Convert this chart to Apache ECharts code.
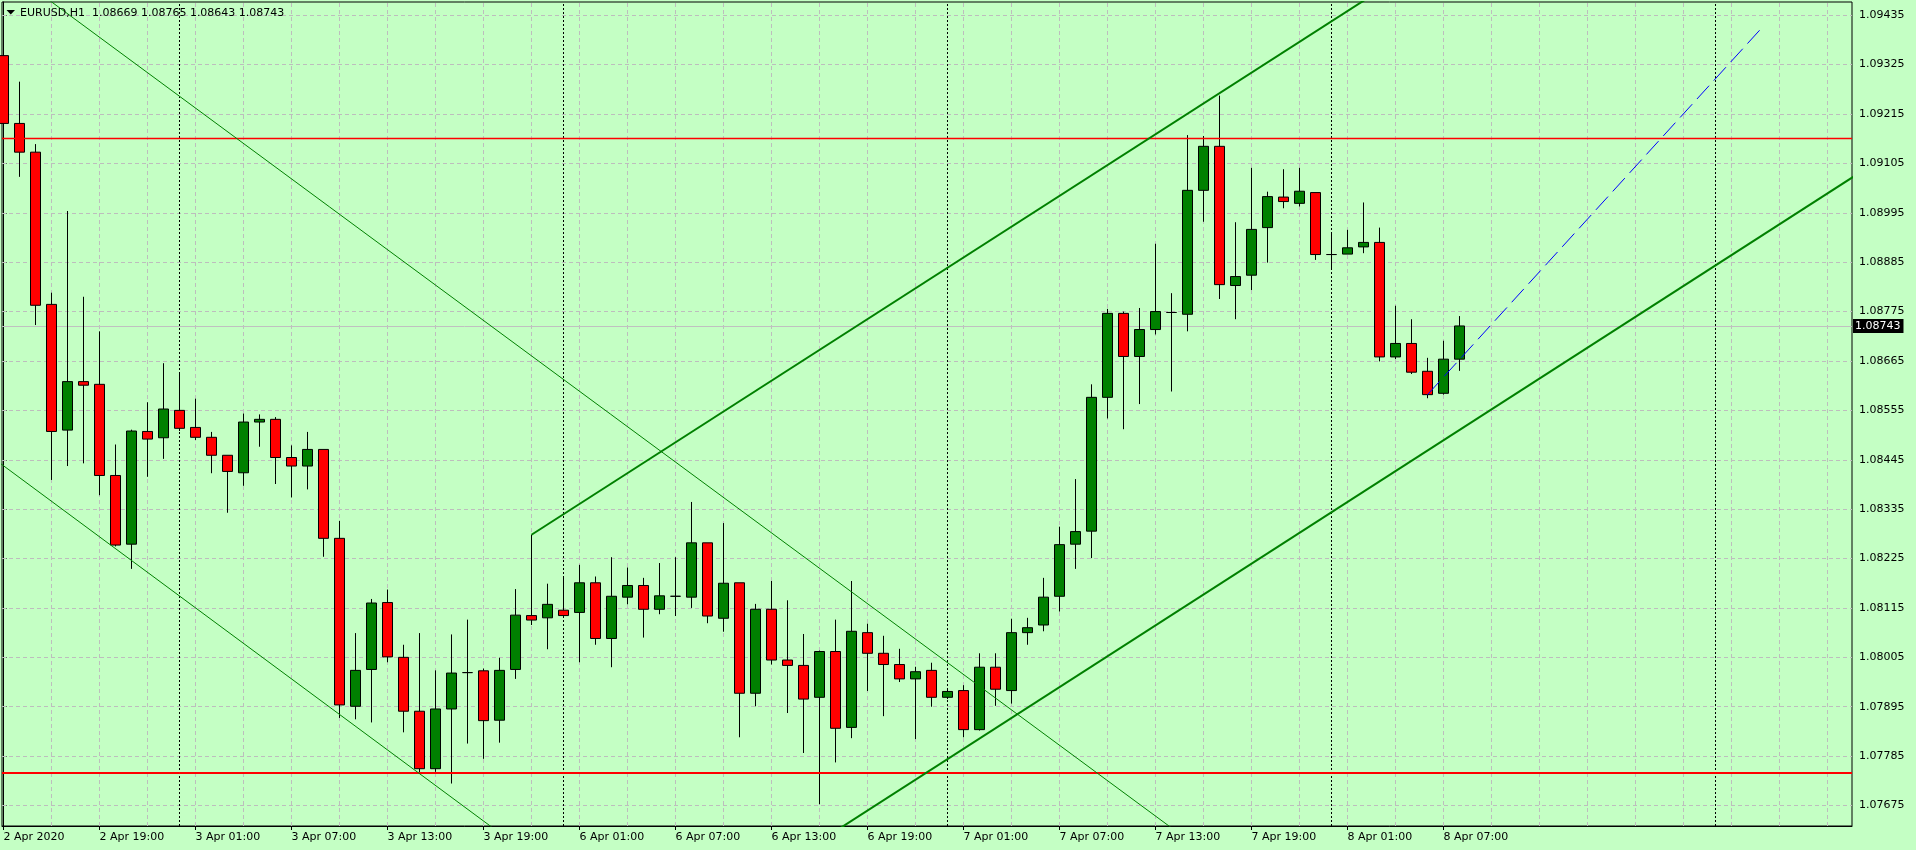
<!DOCTYPE html>
<html><head><meta charset="utf-8">
<script src="https://cdn.jsdelivr.net/npm/echarts@6/dist/echarts.min.js"></script>
<style>html,body{margin:0;padding:0;background:#C4FFC4;overflow:hidden;} #c{width:1916px;height:850px;}</style>
</head><body><div id="c"></div>
<script>
const symbolName = 'EURUSD,H1';
const xLabelIdx = [0,6,12,18,24,30,36,42,48,54,60,66,72,78,84,90];
const xLabels = ['2 Apr 2020','2 Apr 19:00','3 Apr 01:00','3 Apr 07:00','3 Apr 13:00','3 Apr 19:00','6 Apr 01:00','6 Apr 07:00','6 Apr 13:00','6 Apr 19:00','7 Apr 01:00','7 Apr 07:00','7 Apr 13:00','7 Apr 19:00','8 Apr 01:00','8 Apr 07:00'];
const yTicks = [1.07675,1.07785,1.07895,1.08005,1.08115,1.08225,1.08335,1.08445,1.08555,1.08665,1.08775,1.08885,1.08995,1.09105,1.09215,1.09325,1.09435];

const opens  = [1.09345,1.09194,1.09130,1.08791,1.08511,1.08619,1.08613,1.08410,1.08257,1.08508,1.08494,1.08555,1.08517,1.08495,1.08455,1.08416,1.08529,1.08535,1.08450,1.08431,1.08468,1.08270,1.07896,1.07978,1.08127,1.08005,1.07885,1.07757,1.07890,1.07971,1.07975,1.07865,1.07978,1.08098,1.08093,1.08110,1.08105,1.08171,1.08047,1.08139,1.08165,1.08112,1.08141,1.08139,1.08260,1.08092,1.08171,1.07925,1.08112,1.07999,1.07987,1.07916,1.08018,1.07849,1.08060,1.08014,1.07989,1.07957,1.07976,1.07916,1.07931,1.07844,1.07983,1.07931,1.08060,1.08077,1.08141,1.08257,1.08286,1.08584,1.08771,1.08675,1.08735,1.08773,1.08769,1.09045,1.09143,1.08833,1.08856,1.08962,1.09030,1.09016,1.09040,1.08902,1.08903,1.08919,1.08929,1.08674,1.08704,1.08642,1.08593,1.08669];
const highs  = [1.09372,1.09287,1.09148,1.08817,1.08999,1.08808,1.08731,1.08479,1.08512,1.08573,1.08660,1.08639,1.08581,1.08507,1.08455,1.08548,1.08546,1.08540,1.08477,1.08507,1.08468,1.08309,1.08059,1.08135,1.08156,1.08033,1.08059,1.07976,1.08056,1.08089,1.07980,1.08004,1.08157,1.08278,1.08169,1.08182,1.08211,1.08185,1.08228,1.08205,1.08182,1.08215,1.08228,1.08351,1.08260,1.08304,1.08171,1.08124,1.08175,1.08132,1.08057,1.08020,1.08089,1.08175,1.08080,1.08053,1.08024,1.07984,1.07993,1.07934,1.07943,1.08014,1.08014,1.08091,1.08093,1.08182,1.08296,1.08402,1.08613,1.08781,1.08775,1.08783,1.08926,1.08816,1.09168,1.09166,1.09256,1.08974,1.09095,1.09042,1.09092,1.09095,1.09040,1.08948,1.08957,1.09018,1.08962,1.08788,1.08758,1.08672,1.08710,1.08765];
const lows   = [1.09141,1.09075,1.08745,1.08400,1.08431,1.08437,1.08366,1.08252,1.08202,1.08407,1.08447,1.08509,1.08489,1.08415,1.08327,1.08387,1.08474,1.08391,1.08361,1.08379,1.08229,1.07870,1.07867,1.07860,1.07994,1.07838,1.07748,1.07750,1.07724,1.07813,1.07779,1.07815,1.07957,1.08077,1.08023,1.08097,1.07994,1.08033,1.07983,1.08123,1.08049,1.08101,1.08097,1.08115,1.08081,1.08062,1.07827,1.07896,1.07989,1.07881,1.07792,1.07678,1.07771,1.07825,1.07930,1.07874,1.07950,1.07823,1.07895,1.07912,1.07827,1.07842,1.07897,1.07902,1.08033,1.08063,1.08107,1.08202,1.08226,1.08537,1.08513,1.08569,1.08724,1.08597,1.08731,1.08975,1.08803,1.08758,1.08823,1.08884,1.09005,1.09009,1.08890,1.08869,1.08903,1.08905,1.08664,1.08669,1.08636,1.08582,1.08590,1.08643];
const closes = [1.09194,1.09130,1.08789,1.08508,1.08619,1.08611,1.08410,1.08255,1.08509,1.08491,1.08558,1.08515,1.08495,1.08455,1.08419,1.08529,1.08535,1.08450,1.08431,1.08468,1.08270,1.07899,1.07976,1.08126,1.08006,1.07885,1.07757,1.07890,1.07970,1.07971,1.07864,1.07976,1.08099,1.08088,1.08123,1.08098,1.08171,1.08047,1.08141,1.08165,1.08112,1.08142,1.08141,1.08260,1.08097,1.08170,1.07925,1.08112,1.07999,1.07987,1.07912,1.08018,1.07847,1.08063,1.08014,1.07989,1.07957,1.07973,1.07916,1.07929,1.07844,1.07983,1.07934,1.08060,1.08071,1.08139,1.08256,1.08285,1.08584,1.08771,1.08675,1.08735,1.08775,1.08773,1.09045,1.09143,1.08835,1.08853,1.08958,1.09031,1.09020,1.09043,1.08902,1.08902,1.08917,1.08929,1.08674,1.08704,1.08640,1.08590,1.08669,1.08743];

const levelLines = [1.09162, 1.07747];
const daySeparators = [11, 35, 59, 83, 107];
const thinTrend1 = [[2, 1.09491], [74, 1.07599]];
const thinTrend2 = [[-1, 1.08458], [31.5, 1.07601]];
const thickTrend1 = [[33, 1.08278], [86, 1.09490]];
const thickTrend2 = [[52, 1.07618], [116, 1.09084]];
const blueDash = [[89, 1.08590], [110, 1.09411]];

const FONT = 'DejaVu Sans';
const N = closes.length;
const candleData = closes.map((c, i) => [i, opens[i], closes[i], lows[i], highs[i]]);
const gridXs = [];
for (let i = 3; i <= 115; i += 3) gridXs.push(i);
const last = N - 1;
const headerText = symbolName + '  ' + [opens[last], highs[last], lows[last], closes[last]].map(v => v.toFixed(5)).join(' ');

const chart = echarts.init(document.getElementById('c'), null, {renderer: 'canvas'});
const lineSeries = (data, color, width, type, z) => ({
  type: 'line', data: data, showSymbol: false, symbol: 'none', clip: true, silent: true, z: z,
  lineStyle: {color: color, width: width, type: type}, animation: false
});
const mk = (z, extra) => Object.assign({silent: true, symbol: 'none', animation: false, precision: 6, z: z, label: {show: false}}, extra);
chart.setOption({
  animation: false,
  backgroundColor: '#C4FFC4',
  textStyle: {fontFamily: FONT},
  title: {text: headerText, left: 20, top: 6, padding: 0, z: 100,
    textStyle: {fontSize: 11, fontWeight: 'normal', fontFamily: FONT, color: '#000', lineHeight: 14}},
  grid: {left: 2, top: 2, width: 1850, height: 824, show: true, borderColor: '#000', borderWidth: 1, backgroundColor: 'transparent', containLabel: false, outerBoundsMode: 'none'},
  xAxis: {
    type: 'value', min: -0.09375, max: 115.53125, scale: true,
    axisLine: {show: true, onZero: false, lineStyle: {color: '#000', width: 1}},
    axisTick: {show: true, customValues: xLabelIdx, length: 4, lineStyle: {color: '#000'}},
    axisLabel: {show: true, customValues: xLabelIdx, align: 'left', margin: 6, color: '#000', fontFamily: FONT, fontSize: 11,
      formatter: v => xLabels[xLabelIdx.indexOf(Math.round(v))] || ''},
    splitLine: {show: false}
  },
  yAxis: {
    type: 'value', position: 'right', min: 1.076294, max: 1.094644, scale: true,
    axisLine: {show: true, lineStyle: {color: '#000', width: 1}},
    axisTick: {show: true, customValues: yTicks, length: 3, lineStyle: {color: '#000'}},
    axisLabel: {show: true, customValues: yTicks, margin: 7, color: '#000', fontFamily: FONT, fontSize: 11,
      formatter: v => v.toFixed(5)},
    splitLine: {show: false}
  },
  series: [
    {type: 'line', data: [], z: 1, silent: true,
     markLine: mk(1, {lineStyle: {color: '#bdbdbd', width: 1, type: [4, 3]},
       data: gridXs.map(v => ({xAxis: v})).concat(yTicks.map(v => ({yAxis: v})))})},
    {type: 'line', data: [], z: 1, silent: true,
     markLine: mk(1, {lineStyle: {color: '#000', width: 1, type: [2, 2]},
       data: daySeparators.map(v => ({xAxis: v}))})},
    {type: 'line', data: [], z: 1, silent: true,
     markLine: mk(1, {lineStyle: {color: '#c0c0c0', width: 1, type: 'solid'},
       label: {show: true, position: 'end', distance: 1, formatter: p => Number(p.value).toFixed(5),
         color: '#fff', backgroundColor: '#000', padding: [2, 3, 1, 2], fontFamily: FONT, fontSize: 11},
       data: [{yAxis: closes[last]}]})},
    {type: 'candlestick', data: candleData, encode: {x: 0, y: [1, 2, 3, 4]}, z: 3, barWidth: 10, clip: true, silent: true,
     itemStyle: {color: '#008000', color0: '#ff0000', borderColor: '#000', borderColor0: '#000', borderColorDoji: '#000', borderWidth: 1}},
    {type: 'line', data: [], z: 4, silent: true,
     markLine: mk(4, {data: [
         {yAxis: levelLines[0], lineStyle: {color: '#ff0000', width: 1.3, type: 'solid'}},
         {yAxis: levelLines[1], lineStyle: {color: '#ff0000', width: 2, type: 'solid'}}
       ]})},
    lineSeries(thinTrend1, '#008000', 1, 'solid', 5),
    lineSeries(thinTrend2, '#008000', 1, 'solid', 5),
    lineSeries(thickTrend1, '#008000', 2, 'solid', 5),
    lineSeries(thickTrend2, '#008000', 2, 'solid', 5),
    lineSeries(blueDash, '#0000ff', 1, [18, 7], 5)
  ],
  graphic: [
    {type: 'polygon', z: 100, shape: {points: [[6.5, 10], [15, 10], [10.75, 14.5]]}, style: {fill: '#000'}}
  ]
});
</script>
</body></html>
